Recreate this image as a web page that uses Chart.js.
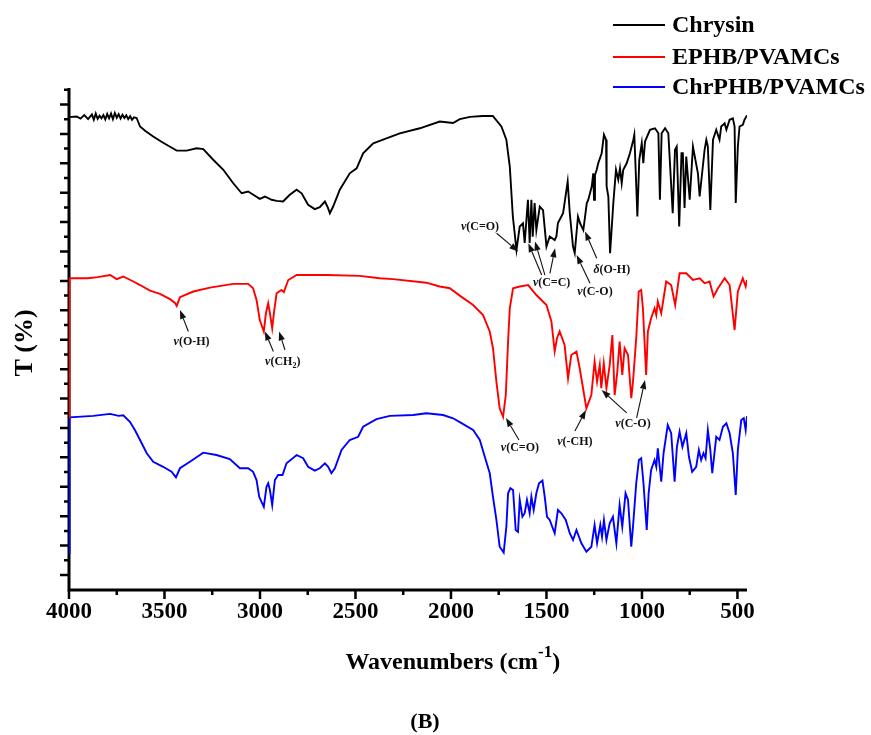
<!DOCTYPE html>
<html><head><meta charset="utf-8">
<script src="https://cdn.jsdelivr.net/npm/chart.js@4.4.1/dist/chart.umd.min.js"></script>
<style>html,body{margin:0;padding:0;background:#fff;}#wrap{width:871px;height:735px;}</style>
</head><body><div id="wrap"><canvas id="c" width="871" height="735"></canvas></div>
<script>
// ---------- data ----------
const seriesNames = ['Chrysin', 'EPHB/PVAMCs', 'ChrPHB/PVAMCs'];
const seriesColors = ['#000000', '#ff0000', '#0000ff'];

const chrysinWn = [4000,3995,3960,3940,3920,3900,3880,3870,3860,3850,3840,3830,3820,3810,3800,3790,3780,3770,3760,3750,3740,3730,3720,3710,3700,3690,3680,3670,3660,3646,3628,3600,3559,3520,3489,3436,3384,3332,3297,3245,3192,3140,3096,3062,3035,3001,2974,2939,2913,2879,2844,2808,2782,2748,2713,2687,2660,2645,2634,2617,2582,2530,2494,2460,2407,2338,2268,2163,2059,1989,1954,1900,1834,1781,1736,1710,1692,1676,1657,1640,1623,1614,1597,1588,1579,1572,1562,1553,1535,1518,1500,1483,1457,1448,1440,1413,1389,1378,1361,1352,1335,1324,1307,1289,1281,1263,1255,1251,1246,1237,1229,1211,1199,1188,1185,1176,1167,1159,1150,1136,1124,1115,1106,1098,1080,1063,1045,1040,1033,1024,1014,1001,993,984,958,932,914,906,897,879,862,839,827,818,805,793,786,777,768,750,733,707,698,672,663,655,642,628,611,594,585,567,558,541,524,515,509,498,489,472,463,450];
const chrysinT = [155.7,155.7,155.9,155.2,156.4,155.0,156.6,154.8,156.9,155.1,156.2,155.3,156.4,154.9,156.8,155.3,156.9,155.0,157.1,155.5,156.7,155.2,156.5,155.4,156.3,155.0,156.0,154.8,155.6,155.4,152.5,151.0,149.1,147.5,146.3,144.3,144.3,145.1,144.8,141.2,137.8,133.2,129.8,130.4,129.3,127.9,128.7,127.6,127.2,127.0,129.3,131.0,129.8,125.9,124.4,125.1,127.0,125.0,123.0,125.3,131.0,136.6,138.3,143.4,146.8,148.5,150.2,151.9,154.2,153.7,155.0,155.8,156.1,156.1,152.5,148.0,138.9,121.9,110.5,118.5,119.6,112.9,127.6,112.9,127.6,115.0,126.5,117.3,125.3,124.1,111.7,115.1,113.9,115.1,119.7,123.0,133.8,123.1,111.7,109.5,121.9,119.6,117.3,126.4,127.6,132.1,136.6,127.6,136.0,137.8,140.0,143.4,149.7,148.0,132.1,128.7,109.4,117.3,126.4,137.8,134.4,138.3,133.2,137.8,140.0,143.4,148.0,149.7,137.8,121.9,141.2,146.8,140.0,147.4,151.4,151.9,150.2,127.6,150.2,151.9,150.2,123.0,144.6,145.7,118.5,143.4,143.4,124.8,142.3,127.6,145.7,136.6,128.7,144.6,148.0,145.7,124.1,148.0,151.4,148.0,152.5,153.6,151.4,154.8,155.3,152.5,126.5,145.7,152.5,153.1,154.8,156.3];

const ephbWn = [4000,3999,3995,3900,3850,3785,3750,3716,3663,3628,3576,3524,3471,3445,3436,3419,3349,3262,3140,3062,3036,3018,3001,2980,2969,2957,2948,2936,2927,2913,2887,2875,2852,2808,2651,2477,2373,2303,2129,2059,2006,1954,1884,1832,1797,1780,1762,1745,1727,1713,1701,1692,1675,1640,1596,1553,1500,1474,1457,1445,1431,1405,1387,1370,1343,1326,1291,1265,1248,1235,1221,1213,1200,1186,1169,1155,1143,1129,1117,1103,1091,1073,1056,1047,1030,1017,1004,995,978,969,952,934,925,917,899,873,847,826,803,768,733,698,672,646,625,602,567,541,515,498,472,457,450];
const ephbT = [53.7,100.9,100.9,100.9,101.3,102.0,100.6,101.5,99.8,98.6,96.7,95.6,93.8,92.5,91.5,94.5,96.4,97.7,99.0,99.0,97.5,93.5,86.7,82.8,89.0,92.4,89.0,83.9,89.1,95.8,96.9,96.2,100.3,102.0,102.0,101.7,100.9,100.6,99.4,98.1,97.5,95.0,91.8,88.4,82.8,77.1,65.7,56.7,53.8,61.2,79.4,90.7,97.5,98.1,98.6,95.2,91.8,86.2,76.0,80.5,82.8,78.2,66.9,74.8,76.0,70.3,56.7,61.2,72.6,65.7,71.4,63.5,72.0,63.5,71.4,81.6,61.2,69.1,79.4,68.0,77.1,74.8,60.1,65.7,80.5,96.4,96.9,90.7,68.0,82.8,87.3,90.7,88.4,93.0,89.0,99.8,98.6,91.8,102.6,102.6,100.3,100.9,99.2,99.8,94.7,97.5,100.9,98.6,83.3,96.4,100.9,98.1,100.3];

const chrphbWn = [4000,3999,3995,3873,3785,3740,3716,3681,3655,3628,3593,3559,3507,3463,3440,3419,3367,3297,3228,3158,3105,3062,3036,3018,3004,2980,2966,2957,2948,2936,2922,2905,2882,2861,2808,2774,2748,2713,2687,2660,2643,2626,2608,2573,2530,2486,2460,2390,2320,2198,2129,2041,1989,1954,1884,1849,1823,1797,1780,1762,1745,1724,1710,1701,1689,1675,1661,1649,1640,1626,1614,1602,1588,1579,1567,1553,1539,1521,1509,1497,1483,1457,1440,1422,1399,1378,1361,1343,1317,1291,1265,1248,1235,1218,1209,1199,1186,1169,1152,1134,1117,1103,1086,1073,1056,1047,1030,1016,1004,992,975,965,952,934,925,917,899,887,865,847,829,817,803,788,768,754,737,716,702,690,678,667,655,642,632,611,594,576,558,541,524,509,498,480,467,457,450];
const chrphbT = [7.5,53.6,53.6,54.1,54.8,54.1,54.3,52.1,49.3,45.9,41.4,38.5,36.8,35.1,33.2,36.3,38.5,41.6,40.8,39.4,36.3,36.3,35.1,32.3,26.6,23.2,30.0,31.2,28.9,23.8,32.3,34.0,34.0,38.0,40.8,39.7,36.8,35.5,36.3,38.0,36.8,34.6,36.3,42.5,45.9,47.0,50.4,53.0,54.1,54.4,55.0,54.4,53.3,52.0,49.3,45.9,40.2,34.6,26.6,18.7,9.6,7.6,16.4,27.8,29.5,28.9,15.3,14.7,25.5,19.8,21.0,25.5,21.0,26.6,22.1,27.8,31.2,32.1,26.6,19.8,18.7,14.2,22.1,21.0,18.7,14.2,11.9,15.3,10.8,7.9,9.6,17.0,10.8,17.0,13.0,18.7,11.9,17.6,19.8,10.8,23.8,16.4,27.8,25.5,9.6,16.4,31.2,39.1,39.7,31.2,15.3,27.8,35.7,39.1,36.8,43.1,31.7,41.4,51.0,48.2,31.7,43.6,48.7,43.6,48.2,40.2,35.1,36.8,42.5,39.1,41.4,39.7,49.3,42.5,34.6,47.0,45.9,50.4,51.6,48.2,41.4,27.2,42.5,52.7,53.3,49.3,54.0];

const xTickLabels = [4000, 3500, 3000, 2500, 2000, 1500, 1000, 500];
const xMinorTicks = [3750, 3250, 2750, 2250, 1750, 1250, 750];
const yMajorTicks = [0,10,20,30,40,50,60,70,80,90,100,110,120,130,140,150,160];
const yMinorTicks = [5,15,25,35,45,55,65,75,85,95,105,115,125,135,145,155,165];

const xTitle = 'Wavenumbers (cm';
const xTitleSup = '-1';
const yTitle = 'T (%)';
const panelLabel = '(B)';

// annotations: label text parts, label position and arrows (tail -> tip) in data units
const annotations = [
  {parts:[['ν','i'],['(C=O)','n']], at:[1848,118.4], arrows:[[1761,116.2,1648,110.0]]},
  {parts:[['ν','i'],['(C=C)','n']], at:[1473,99.4], arrows:[[1525,102.0,1595,112.8],[1508,102.0,1560,113.4],[1482,102.6,1455,111.1]]},
  {parts:[['ν','i'],['(C-O)','n']], at:[1246,96.4], arrows:[[1272,99.2,1342,108.8]]},
  {parts:[['δ','i'],['(O-H)','n']], at:[1158,103.7], arrows:[[1237,107.7,1298,116.8]]},
  {parts:[['ν','i'],['(O-H)','n']], at:[3358,79.4], arrows:[[3375,82.8,3419,90.1]]},
  {parts:[['ν','i'],['(CH','n'],['2','s'],[')','n']], at:[2881,72.6], arrows:[[2930,76.0,2974,82.8],[2869,76.5,2900,82.8]]},
  {parts:[['ν','i'],['(C=O)','n']], at:[1639,43.2], arrows:[[1644,45.9,1712,53.4]]},
  {parts:[['ν','i'],['(-CH)','n']], at:[1351,45.2], arrows:[[1351,49.0,1293,56.1]]},
  {parts:[['ν','i'],['(C-O)','n']], at:[1047,51.4], arrows:[[1080,55.1,1211,62.9],[1028,53.4,984,66.3]]}
];

// ---------- chart ----------
const SERIF = '"Liberation Serif","Times New Roman",serif';
function pts(w, t){ return w.map((x,i)=>({x:x, y:t[i]})); }

const overlay = {
  id:'overlay',
  beforeDatasetsDraw(chart){
    const ctx = chart.ctx, xs = chart.scales.x, ys = chart.scales.y, ca = chart.chartArea;
    ctx.save();
    ctx.strokeStyle = '#000';
    ctx.lineWidth = 3;
    ctx.beginPath();
    ctx.moveTo(ca.left, ca.top); ctx.lineTo(ca.left, ca.bottom); ctx.lineTo(ca.right, ca.bottom);
    ctx.stroke();
    ctx.lineWidth = 2.5;
    ctx.beginPath();
    xTickLabels.forEach(v=>{const p=xs.getPixelForValue(v); ctx.moveTo(p,ca.bottom); ctx.lineTo(p,ca.bottom+9);});
    xMinorTicks.forEach(v=>{const p=xs.getPixelForValue(v); ctx.moveTo(p,ca.bottom); ctx.lineTo(p,ca.bottom+5);});
    yMajorTicks.forEach(v=>{const p=ys.getPixelForValue(v); ctx.moveTo(ca.left,p); ctx.lineTo(ca.left-9,p);});
    yMinorTicks.forEach(v=>{const p=ys.getPixelForValue(v); ctx.moveTo(ca.left,p); ctx.lineTo(ca.left-5,p);});
    ctx.stroke();
    // tick labels
    ctx.fillStyle = '#000';
    ctx.font = 'bold 23px ' + SERIF;
    ctx.textAlign = 'center'; ctx.textBaseline = 'top';
    xTickLabels.forEach(v=>{ctx.fillText(String(v), xs.getPixelForValue(v), ca.bottom + 11);});
    // x title
    ctx.font = 'bold 24px ' + SERIF;
    const w1 = ctx.measureText(xTitle).width;
    ctx.font = 'bold 17px ' + SERIF;
    const w2 = ctx.measureText(xTitleSup).width;
    ctx.font = 'bold 24px ' + SERIF;
    const w3 = ctx.measureText(')').width;
    const cx = (xs.getPixelForValue(2000) + xs.getPixelForValue(1750)) / 2 - 22;
    let sx = cx - (w1 + w2 + w3) / 2;
    ctx.textAlign = 'left'; ctx.textBaseline = 'alphabetic';
    ctx.fillText(xTitle, sx, 669);
    ctx.font = 'bold 17px ' + SERIF;
    ctx.fillText(xTitleSup, sx + w1, 657);
    ctx.font = 'bold 24px ' + SERIF;
    ctx.fillText(')', sx + w1 + w2, 669);
    // y title
    ctx.save();
    ctx.translate(25, 343);
    ctx.rotate(-Math.PI/2);
    ctx.font = 'bold 26px ' + SERIF;
    ctx.textAlign = 'center'; ctx.textBaseline = 'middle';
    ctx.fillText(yTitle, 0, 0);
    ctx.restore();
    // panel label
    ctx.font = 'bold 22px ' + SERIF;
    ctx.textAlign = 'center'; ctx.textBaseline = 'middle';
    ctx.fillText(panelLabel, 425, 722);
    ctx.restore();
  },
  afterDatasetsDraw(chart){
    const ctx = chart.ctx, xs = chart.scales.x, ys = chart.scales.y;
    ctx.save();
    // legend
    const rows = [25, 57, 87];
    chart.data.datasets.forEach((ds,i)=>{
      ctx.strokeStyle = ds.borderColor; ctx.lineWidth = 2;
      ctx.beginPath(); ctx.moveTo(613, rows[i]); ctx.lineTo(665, rows[i]); ctx.stroke();
      ctx.fillStyle = '#000';
      ctx.font = 'bold 24px ' + SERIF;
      ctx.textAlign = 'left'; ctx.textBaseline = 'middle';
      ctx.fillText(ds.label, 672, rows[i] + 1);
    });
    // annotations
    ctx.fillStyle = '#111'; ctx.strokeStyle = '#111';
    const fontOf = k => k==='i' ? 'italic bold 12px '+SERIF : (k==='s' ? 'bold 8px '+SERIF : 'bold 12px '+SERIF);
    annotations.forEach(a=>{
      let total = 0;
      a.parts.forEach(p=>{ctx.font = fontOf(p[1]); total += ctx.measureText(p[0]).width;});
      let x = xs.getPixelForValue(a.at[0]) - total/2;
      const y = ys.getPixelForValue(a.at[1]);
      ctx.textAlign = 'left'; ctx.textBaseline = 'middle';
      a.parts.forEach(p=>{
        ctx.font = fontOf(p[1]);
        ctx.fillText(p[0], x, p[1]==='s' ? y + 4 : y);
        x += ctx.measureText(p[0]).width;
      });
      a.arrows.forEach(ar=>{
        const x0 = xs.getPixelForValue(ar[0]), y0 = ys.getPixelForValue(ar[1]);
        const x1 = xs.getPixelForValue(ar[2]), y1 = ys.getPixelForValue(ar[3]);
        const ang = Math.atan2(y1 - y0, x1 - x0);
        const hl = 9, hw = 3.2;
        const bx = x1 - hl*Math.cos(ang), by = y1 - hl*Math.sin(ang);
        ctx.lineWidth = 1.1;
        ctx.beginPath(); ctx.moveTo(x0, y0); ctx.lineTo(bx, by); ctx.stroke();
        ctx.beginPath();
        ctx.moveTo(x1, y1);
        ctx.lineTo(bx + hw*Math.sin(ang), by - hw*Math.cos(ang));
        ctx.lineTo(bx - hw*Math.sin(ang), by + hw*Math.cos(ang));
        ctx.closePath(); ctx.fill();
      });
    });
    ctx.restore();
  }
};

new Chart(document.getElementById('c'), {
  type: 'line',
  data: {
    datasets: [
      {label: seriesNames[0], data: pts(chrysinWn, chrysinT), borderColor: seriesColors[0]},
      {label: seriesNames[1], data: pts(ephbWn, ephbT), borderColor: seriesColors[1]},
      {label: seriesNames[2], data: pts(chrphbWn, chrphbT), borderColor: seriesColors[2]}
    ]
  },
  options: {
    responsive: false,
    animation: false,
    layout: {padding: {left: 69, right: 124, top: 88, bottom: 145}},
    elements: {line: {borderWidth: 1.9, tension: 0, fill: false}, point: {radius: 0}},
    plugins: {legend: {display: false}, tooltip: {enabled: false}},
    scales: {
      x: {type: 'linear', reverse: true, min: 450, max: 4000, display: false},
      y: {type: 'linear', min: -5.1, max: 165.6, display: false}
    }
  },
  plugins: [overlay]
});
</script>
</body></html>
